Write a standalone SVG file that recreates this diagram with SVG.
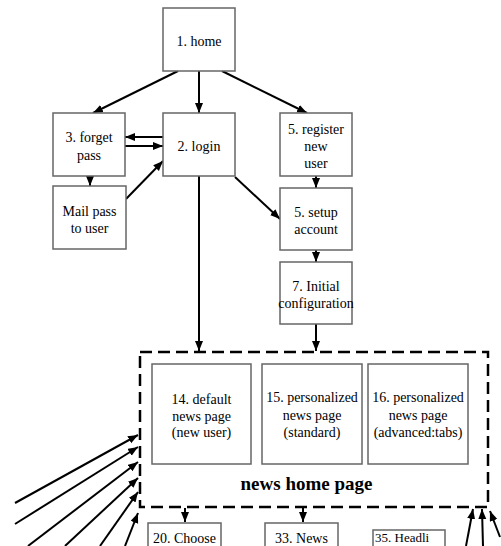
<svg xmlns="http://www.w3.org/2000/svg" width="501" height="546" viewBox="0 0 501 546" font-family="'Liberation Serif', 'Times New Roman', serif">
<style>
.box{fill:#fff;stroke:#666;stroke-width:1.5}
.t{font-family:'Liberation Serif','Times New Roman',serif;font-size:14px;fill:#000;text-anchor:middle}
.c{stroke:#000;stroke-width:2;fill:none;marker-end:url(#ah)}
.dash{fill:none;stroke:#000;stroke-width:2.5;stroke-dasharray:12 6}
</style>
<defs>
<marker id="ah" markerUnits="userSpaceOnUse" markerWidth="12" markerHeight="10" refX="10" refY="4" orient="auto">
<path d="M0,0 L10,4 L0,8 Z" fill="#000"/>
</marker>
</defs>
<rect width="501" height="546" fill="#fff"/>
<g id="connectors">
<line class="c" x1="178" y1="71" x2="93" y2="113"/>
<line class="c" x1="199" y1="71" x2="199" y2="113"/>
<line class="c" x1="222" y1="71" x2="307" y2="113"/>
<line class="c" x1="163" y1="137" x2="125" y2="137"/>
<line class="c" x1="125" y1="146" x2="163" y2="146"/>
<line class="c" x1="90" y1="176" x2="90" y2="186"/>
<line class="c" x1="126" y1="199" x2="163" y2="161"/>
<line class="c" x1="235" y1="177" x2="280" y2="219"/>
<line class="c" x1="199" y1="176" x2="199" y2="351"/>
<line class="c" x1="316" y1="176" x2="316" y2="188"/>
<line class="c" x1="316" y1="250" x2="316" y2="262"/>
<line class="c" x1="316" y1="324" x2="316" y2="351"/>
<line class="c" x1="185" y1="508" x2="185" y2="522"/>
<line class="c" x1="303" y1="508" x2="303" y2="522"/>
<line class="c" x1="15" y1="503" x2="138" y2="435"/>
<line class="c" x1="15" y1="524" x2="138" y2="447"/>
<line class="c" x1="28" y1="546" x2="138" y2="462"/>
<line class="c" x1="65" y1="546" x2="138" y2="478"/>
<line class="c" x1="100" y1="546" x2="138" y2="492"/>
<line class="c" x1="125" y1="546" x2="138" y2="513"/>
<line class="c" x1="466" y1="546" x2="473" y2="509"/>
<line class="c" x1="483" y1="546" x2="482" y2="509"/>
<line class="c" x1="500" y1="537" x2="490" y2="511"/>
</g>
<g id="n1"><rect class="box" x="163" y="8" width="72" height="63"/><text class="t" x="199" y="46">1. home</text></g>
<g id="n3"><rect class="box" x="53" y="113" width="72" height="63"/><text class="t" x="89" y="142">3. forget</text><text class="t" x="89" y="160">pass</text></g>
<g id="n2"><rect class="box" x="163" y="113" width="72" height="63"/><text class="t" x="199" y="151">2. login</text></g>
<g id="n5r"><rect class="box" x="280" y="113" width="72" height="63"/><text class="t" x="316" y="134">5. register</text><text class="t" x="316" y="151">new</text><text class="t" x="316" y="168">user</text></g>
<g id="nmail"><rect class="box" x="53" y="186" width="73" height="63"/><text class="t" x="89.5" y="216">Mail pass</text><text class="t" x="89.5" y="233">to user</text></g>
<g id="n5s"><rect class="box" x="280" y="188" width="72" height="62"/><text class="t" x="316" y="217">5. setup</text><text class="t" x="316" y="234">account</text></g>
<g id="n7"><rect class="box" x="280" y="262" width="72" height="62"/><text class="t" x="316" y="291">7. Initial</text><text class="t" x="316" y="308">configuration</text></g>
<g id="newshome">
<rect class="dash" x="140" y="352" width="348" height="155"/>
<text x="306.5" y="490" font-size="19" font-weight="bold" text-anchor="middle">news home page</text>
</g>
<g id="n14"><rect class="box" x="152" y="364" width="99" height="100"/><text class="t" x="201.5" y="404">14. default</text><text class="t" x="201.5" y="421">news page</text><text class="t" x="201.5" y="437">(new user)</text></g>
<g id="n15"><rect class="box" x="262" y="364" width="100" height="100"/><text class="t" x="312" y="402">15. personalized</text><text class="t" x="312" y="420">news page</text><text class="t" x="312" y="437">(standard)</text></g>
<g id="n16"><rect class="box" x="368" y="364" width="100" height="100"/><text class="t" x="418" y="402">16. personalized</text><text class="t" x="418" y="420">news page</text><text class="t" x="418" y="437">(advanced:tabs)</text></g>
<g id="n20"><rect class="box" x="148" y="523" width="73" height="40"/><text class="t" x="184.5" y="543">20. Choose</text></g>
<g id="n33"><rect class="box" x="265" y="523" width="73" height="40"/><text class="t" x="301.5" y="543">33. News</text></g>
<g id="n35"><rect class="box" x="373" y="530" width="72" height="40"/><text class="t" x="375" y="542" style="text-anchor:start;font-size:13px">35. Headli</text></g>
</svg>
